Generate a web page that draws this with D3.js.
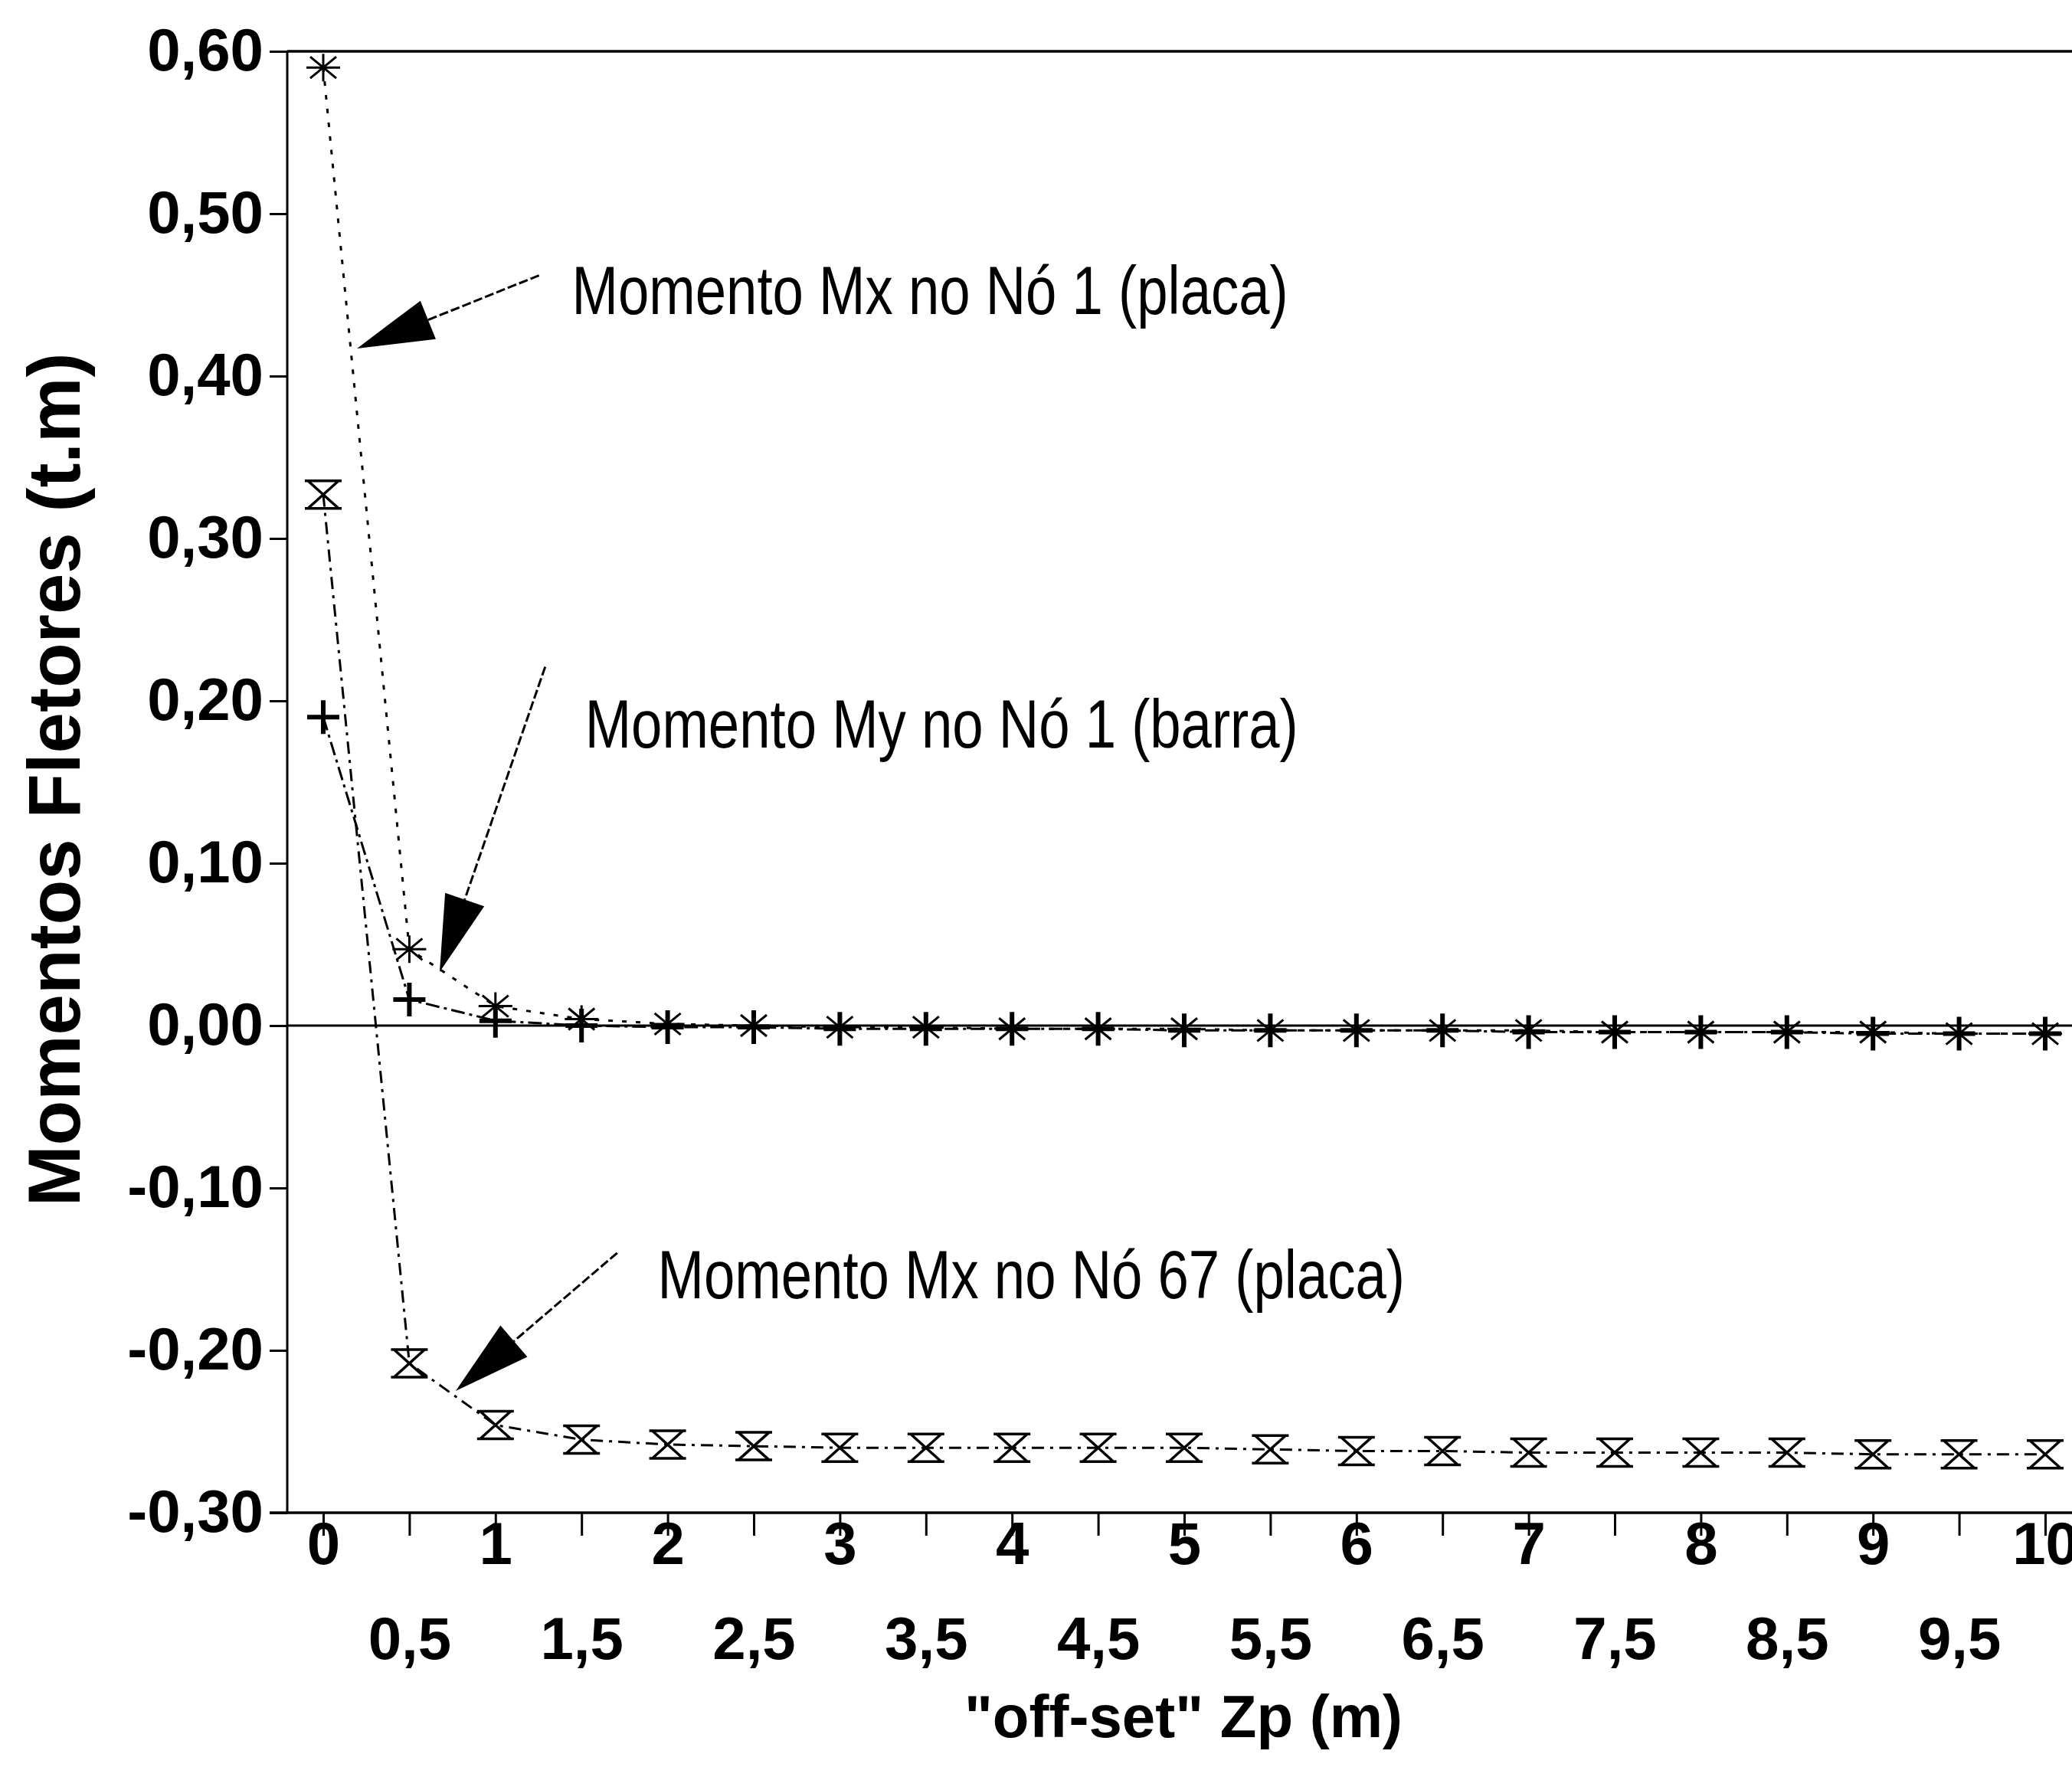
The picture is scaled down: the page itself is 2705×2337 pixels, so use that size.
<!DOCTYPE html>
<html>
<head>
<meta charset="utf-8">
<script src="https://cdn.jsdelivr.net/npm/d3@7"></script>
<style>
  html, body { margin: 0; padding: 0; background: #fff; }
  svg { display: block; }
  text { font-family: "Liberation Sans", Arial, Helvetica, sans-serif; fill: #000; }
</style>
</head>
<body>
<script>
// ---------------- DATA ----------------
const xValues = [0, 0.5, 1, 1.5, 2, 2.5, 3, 3.5, 4, 4.5, 5, 5.5, 6, 6.5, 7, 7.5, 8, 8.5, 9, 9.5, 10];
// Momento Mx no Nó 1 (placa)  — asterisk markers
const mxNo1 = [0.590, 0.047, 0.012, 0.004, 0.001, 0.000, -0.001, -0.001, -0.002, -0.002, -0.002,
               -0.003, -0.003, -0.003, -0.003, -0.004, -0.004, -0.004, -0.004, -0.005, -0.005];
// Momento My no Nó 1 (barra)  — plus markers
const myNo1 = [0.190, 0.016, 0.003, 0.000, -0.001, -0.001, -0.002, -0.002, -0.002, -0.002, -0.003,
               -0.003, -0.003, -0.003, -0.004, -0.004, -0.004, -0.004, -0.005, -0.005, -0.005];
// Momento Mx no Nó 67 (placa) — hourglass markers
const mxNo67 = [0.327, -0.208, -0.246, -0.255, -0.258, -0.259, -0.260, -0.260, -0.260, -0.260, -0.260,
                -0.261, -0.262, -0.262, -0.263, -0.263, -0.263, -0.263, -0.264, -0.264, -0.264];

const yTickValues = [-0.30, -0.20, -0.10, 0.00, 0.10, 0.20, 0.30, 0.40, 0.50, 0.60];
const xTickValues = xValues;
const yTitle = "Momentos Fletores (t.m)";
const xTitle = "\"off-set\" Zp (m)";

// Annotations (anchored in data coordinates)
const annLabels = ["Momento Mx no Nó 1 (placa)", "Momento My no Nó 1 (barra)", "Momento Mx no Nó 67 (placa)"];
const annLabelPos = [[1.444, 0.438], [1.52, 0.171], [1.942, -0.168]];
const annArrowFrom = [[1.253, 0.462], [1.289, 0.221], [1.707, -0.140]];
const annArrowTo = [[0.196, 0.417], [0.676, 0.033], [0.769, -0.225]];

// ---------------- CHART ----------------
const W = 2705, H = 2337;
const svg = d3.select("body").append("svg").attr("width", W).attr("height", H);
svg.append("rect").attr("width", W).attr("height", H).attr("fill", "#fff");

const axisX = 375;
const x = d3.scaleLinear().domain([0, 10]).range([422, 2670]);
const y = d3.scaleLinear().domain([-0.30, 0.60]).range([1975, 67]);

const loc = d3.formatLocale({decimal: ",", thousands: ".", grouping: [3], currency: ["", ""], minus: "-"});
const fy = loc.format(".2f");
const fx = v => Number.isInteger(v) ? String(v) : loc.format(".1f")(v);

// frame lines
svg.append("line").attr("x1", axisX).attr("x2", W).attr("y1", y(0.6)).attr("y2", y(0.6))
   .attr("stroke", "#000").attr("stroke-width", 3.5);
svg.append("line").attr("x1", axisX - 23).attr("x2", W).attr("y1", y(-0.3)).attr("y2", y(-0.3))
   .attr("stroke", "#000").attr("stroke-width", 3.5);
svg.append("line").attr("x1", axisX).attr("x2", axisX).attr("y1", y(0.6)).attr("y2", y(-0.3))
   .attr("stroke", "#000").attr("stroke-width", 3);
// zero line
svg.append("line").attr("x1", axisX).attr("x2", W).attr("y1", y(0)).attr("y2", y(0))
   .attr("stroke", "#000").attr("stroke-width", 3);

// Y axis
const gy = svg.append("g").attr("transform", `translate(${axisX},0)`)
  .call(d3.axisLeft(y).tickValues(yTickValues).tickSize(23).tickSizeOuter(0).tickPadding(8).tickFormat(fy));
gy.select(".domain").remove();
gy.selectAll(".tick line").attr("stroke", "#000").attr("stroke-width", 3);
gy.selectAll(".tick text").attr("font-size", 78).attr("font-weight", "bold")
  .attr("font-family", "'Liberation Sans', Arial, sans-serif").attr("fill", "#000");

// X axis
const gx = svg.append("g").attr("transform", `translate(0,${y(-0.3)})`)
  .call(d3.axisBottom(x).tickValues(xTickValues).tickSize(30).tickSizeOuter(0).tickFormat(fx));
gx.select(".domain").remove();
gx.selectAll(".tick line").attr("stroke", "#000").attr("stroke-width", 3);
gx.selectAll(".tick text").attr("font-size", 78).attr("font-weight", "bold")
  .attr("font-family", "'Liberation Sans', Arial, sans-serif").attr("fill", "#000")
  .attr("dy", 0)
  .attr("y", d => Number.isInteger(d) ? 67 : 191);

// Axis titles
svg.append("text").attr("transform", `translate(104,1018) rotate(-90)`)
  .attr("text-anchor", "middle").attr("font-size", 96).attr("font-weight", "bold").text(yTitle);
svg.append("text").attr("x", 1545).attr("y", 2268)
  .attr("text-anchor", "middle").attr("font-size", 78).attr("font-weight", "bold").text(xTitle);

// Series lines
const line = d3.line().x(d => x(d[0])).y(d => y(d[1]));
const seriesDefs = [
  {vals: mxNo67, dash: "16,8,4,8", sw: 3},
  {vals: myNo1, dash: "18,6,4,6", sw: 3},
  {vals: mxNo1, dash: "6,12", sw: 3}
];
seriesDefs.forEach(s => {
  svg.append("path").datum(xValues.map((xv, i) => [xv, s.vals[i]]))
    .attr("d", line).attr("fill", "none").attr("stroke", "#000")
    .attr("stroke-width", s.sw).attr("stroke-dasharray", s.dash);
});

// Markers
const asterisk = "M-22,0H22M0,-18V18M-17,-14L17,14M-17,14L17,-14";
const plus = "M-21,0H21M0,-22V22";
const hourglass = "M-24,-18H24M-24,18H24M-20,-18L20,18M20,-18L-20,18";

svg.append("g").selectAll("path").data(xValues.map((xv, i) => [xv, mxNo67[i]])).join("path")
  .attr("transform", d => `translate(${x(d[0])},${y(d[1])})`)
  .attr("d", hourglass).attr("fill", "none").attr("stroke", "#000").attr("stroke-width", 3.5);
svg.append("g").selectAll("path").data(xValues.map((xv, i) => [xv, mxNo1[i]])).join("path")
  .attr("transform", d => `translate(${x(d[0])},${y(d[1])})`)
  .attr("d", asterisk).attr("fill", "none").attr("stroke", "#000").attr("stroke-width", 3);
svg.append("g").selectAll("path").data(xValues.map((xv, i) => [xv, myNo1[i]])).join("path")
  .attr("transform", d => `translate(${x(d[0])},${y(d[1])})`)
  .attr("d", plus).attr("fill", "none").attr("stroke", "#000").attr("stroke-width", 6);

// Annotations
annLabels.forEach((t, i) => {
  svg.append("text")
    .attr("transform", `translate(${x(annLabelPos[i][0])},${y(annLabelPos[i][1])}) scale(0.815,1)`)
    .attr("font-size", 89).text(t);
  const x1 = x(annArrowFrom[i][0]), y1 = y(annArrowFrom[i][1]);
  const x2 = x(annArrowTo[i][0]), y2 = y(annArrowTo[i][1]);
  const ang = Math.atan2(y2 - y1, x2 - x1);
  const hl = 100, hw = 27;
  const bx = x2 - hl * Math.cos(ang), by = y2 - hl * Math.sin(ang);
  svg.append("line").attr("x1", x1).attr("y1", y1).attr("x2", bx).attr("y2", by)
    .attr("stroke", "#000").attr("stroke-width", 3).attr("stroke-dasharray", "12,4");
  const px = -Math.sin(ang), py = Math.cos(ang);
  svg.append("polygon")
    .attr("points", [[x2, y2], [bx + hw * px, by + hw * py], [bx - hw * px, by - hw * py]].map(p => p.join(",")).join(" "))
    .attr("fill", "#000");
});
</script>
</body>
</html>
